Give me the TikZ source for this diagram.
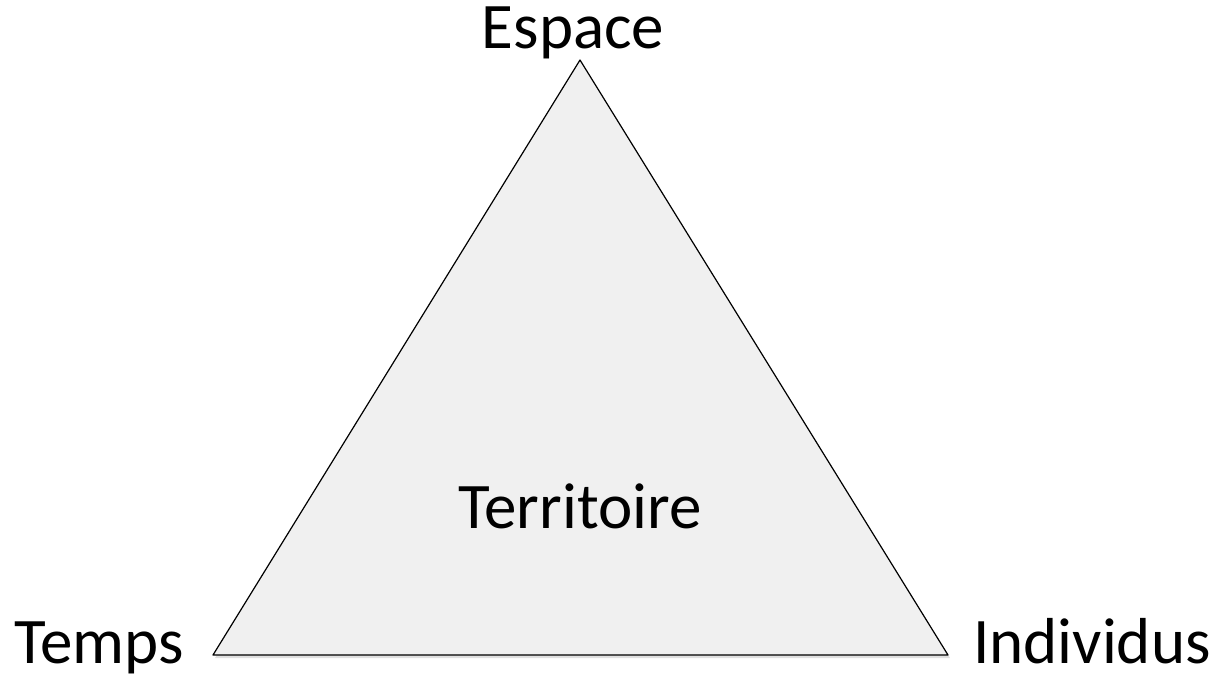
\documentclass[tikz,border=0pt]{standalone}
\usepackage{fontspec}
\setmainfont{Carlito}
\usepackage{tikz}
\definecolor{trifill}{HTML}{F0F0F0}

\begin{document}
\begin{tikzpicture}[x=0.5pt,y=-0.5pt,line cap=round,line join=round,
    lab/.style={font=\fontsize{32.5}{39}\selectfont,anchor=base,inner sep=0pt}]
  % Frame of the picture (pixel units, y downwards)
  \useasboundingbox (0,0) rectangle (1222,687);

  % Corners of the triangle
  \coordinate (esp) at (580,60);
  \coordinate (tps) at (213,655);
  \coordinate (ind) at (948,655);

  % Soft shadow, then the triangle
  \fill[black!12] ([xshift=1pt,yshift=-1.5pt]esp) -- ([xshift=1pt,yshift=-1.5pt]ind) -- ([xshift=1pt,yshift=-1.5pt]tps) -- cycle;
  \draw[fill=trifill,line width=0.6pt] (esp) -- (ind) -- (tps) -- cycle;

  % Labels
  \node[lab] (espace) at (573,48) {Espace};
  \node[lab] (temps) at (99,663) {Temps};
  \node[lab] (individus) at (1092,663) {Individus};
  \node[lab] (territoire) at (580,528) {Territoire};
\end{tikzpicture}
\end{document}
